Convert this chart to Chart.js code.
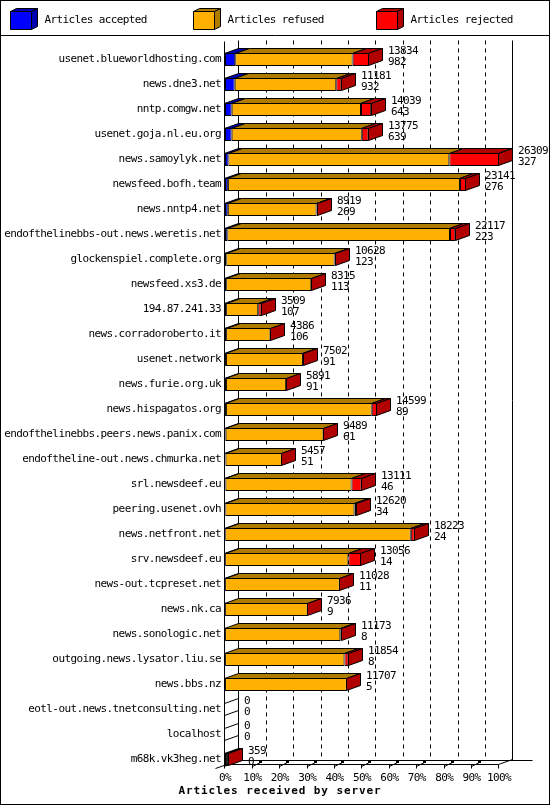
<!DOCTYPE html>
<html><head><meta charset="utf-8">
<script src="https://cdn.jsdelivr.net/npm/chart.js@4.4.0/dist/chart.umd.min.js"></script>
<style>html,body{margin:0;padding:0;background:#fff}canvas{display:block}</style>
</head><body>
<canvas id="c" width="550" height="805"></canvas>
<script>
const servers = [
  'usenet.blueworldhosting.com','news.dne3.net','nntp.comgw.net','usenet.goja.nl.eu.org',
  'news.samoylyk.net','newsfeed.bofh.team','news.nntp4.net','endofthelinebbs-out.news.weretis.net',
  'glockenspiel.complete.org','newsfeed.xs3.de','194.87.241.33','news.corradoroberto.it',
  'usenet.network','news.furie.org.uk','news.hispagatos.org','endofthelinebbs.peers.news.panix.com',
  'endoftheline-out.news.chmurka.net','srl.newsdeef.eu','peering.usenet.ovh','news.netfront.net',
  'srv.newsdeef.eu','news-out.tcpreset.net','news.nk.ca','news.sonologic.net',
  'outgoing.news.lysator.liu.se','news.bbs.nz','eotl-out.news.tnetconsulting.net','localhost',
  'm68k.vk3heg.net'
];
const accepted = [982,932,643,639,327,276,269,223,123,113,107,106,91,91,89,61,51,46,34,24,14,11,9,8,8,5,0,0,0];
const refused  = [11272,9749,12416,12496,21212,22285,8520,21384,10405,8172,3082,4260,7391,5780,14000,9398,5406,12105,12396,17814,11832,11007,7927,11065,11461,11692,0,0,200];
const rejected = [1580,500,980,640,4770,580,130,510,100,30,320,20,20,20,510,30,0,960,190,385,1210,10,0,100,385,10,0,0,159];
const pctTicks = ['0%','10%','20%','30%','40%','50%','60%','70%','80%','90%','100%'];
const seriesNames = ['Articles accepted','Articles refused','Articles rejected'];
const frontColors = ['#0000ff','#ffb000','#ff0000'];
const topColors = ['#0000b0','#b07c00','#b00000'];
const sideColor = '#b00000';
const titleText = 'Articles received by server';

const series = [accepted, refused, rejected];
const totals = servers.map((_, j) => accepted[j] + refused[j] + rejected[j]);
const maxTotal = Math.max(...totals);
const FONT = "'DejaVu Sans Mono', monospace";
const FSIZE = 11;
const SPACING = '-0.6px';
const DX = 14, DY = -5;

function poly(ctx, pts, fill) {
  ctx.beginPath();
  ctx.moveTo(pts[0][0], pts[0][1]);
  for (let i = 1; i < pts.length; i++) ctx.lineTo(pts[i][0], pts[i][1]);
  ctx.closePath();
  if (fill) { ctx.fillStyle = fill; ctx.fill(); }
  ctx.stroke();
}
function line(ctx, x1, y1, x2, y2) {
  ctx.beginPath(); ctx.moveTo(x1, y1); ctx.lineTo(x2, y2); ctx.stroke();
}
function setSpacing(ctx, v) { try { ctx.letterSpacing = v; } catch (e) {} }

const threeD = {
  id: 'threeD',
  beforeDraw(chart) {
    const ctx = chart.ctx;
    setSpacing(ctx, SPACING);
    ctx.save(); ctx.fillStyle = '#fff'; ctx.fillRect(0, 0, chart.width, chart.height); ctx.restore();
  },
  beforeDatasetsDraw(chart) {
    const { ctx, scales: { x } } = chart;
    ctx.save();
    ctx.translate(0.5, 0.5);
    ctx.lineWidth = 1; ctx.strokeStyle = '#000';
    const wallTop = 40, floorBack = 760, floorFront = 764;
    const n = x.ticks.length;
    x.ticks.forEach((t, i) => {
      const xf = Math.round(x.getPixelForValue(t.value) - 0.6);
      const xb = xf + DX;
      ctx.setLineDash(i === 0 || i === n - 1 ? [] : [4, 4]);
      line(ctx, xb, wallTop, xb, floorBack);
    });
    ctx.setLineDash([]);
    const xl = Math.round(x.getPixelForValue(0));
    const xr = Math.round(x.getPixelForValue(maxTotal) - 0.6);
    line(ctx, xl - 1, 41, xl - 1, floorFront + 1);
    line(ctx, xl + DX - 1, floorBack, 532, floorBack);
    line(ctx, xl - 1, floorFront, xr, floorFront);
    line(ctx, xr, floorFront, xr + DX, floorFront + DY);
    line(ctx, 215, floorFront + 4, xl + DX - 1, floorBack);
    x.ticks.forEach((t, i) => {
      const xf = Math.round(x.getPixelForValue(t.value) - 0.6);
      line(ctx, xf, floorFront, xf, floorFront + 4);
      if (i < n - 1) {
        line(ctx, xf, floorFront + 2, xf + 8, floorFront - 2);
        ctx.fillStyle = '#000';
        ctx.fillRect(xf + 7 - 0.5, floorFront - 3.5, 3, 2);
      }
    });
    ctx.restore();
  },
  afterDatasetsDraw(chart) {
    const { ctx, scales: { x, y } } = chart;
    ctx.save();
    ctx.lineWidth = 1; ctx.strokeStyle = '#000';
    const x0 = Math.round(x.getPixelForValue(0));
    servers.forEach((name, j) => {
      const cy = y.getPixelForValue(j);
      const top = Math.round(cy - 6.5), bot = top + 12;
      const total = totals[j];
      let xe;
      ctx.save();
      ctx.translate(0.5, 0.5);
      if (total === 0) {
        xe = x0 - 1;
        line(ctx, xe, top, xe + DX, top + DY);
        line(ctx, xe, bot, xe + DX, bot + DY);
      } else {
        const bounds = [x0 - 1];
        let cum = 0;
        series.forEach(s => {
          cum += s[j];
          bounds.push(Math.max(x0 - 1, Math.round(x.getPixelForValue(cum) - 0.6)));
        });
        for (let k = 0; k < 3; k++) {
          const a = bounds[k], b = bounds[k + 1];
          if (b > a) {
            poly(ctx, [[a, top], [b, top], [b + DX, top + DY], [a + DX, top + DY]], topColors[k]);
          }
        }
        xe = bounds[3];
        poly(ctx, [[xe, top], [xe + DX, top + DY], [xe + DX, bot + DY], [xe, bot]], sideColor);
      }
      ctx.restore();
      ctx.fillStyle = '#000';
      ctx.font = FSIZE + 'px ' + FONT;
      setSpacing(ctx, SPACING);
      ctx.textAlign = 'left';
      ctx.textBaseline = 'middle';
      ctx.fillText(String(total), xe + DX + 6, cy - 8.5);
      ctx.fillText(String(accepted[j]), xe + DX + 6, cy + 2.5);
    });
    ctx.restore();
  },
  afterDraw(chart) {
    const ctx = chart.ctx;
    ctx.save();
    ctx.translate(0.5, 0.5);
    ctx.lineWidth = 1; ctx.strokeStyle = '#000';
    seriesNames.forEach((nm, k) => {
      const bx = 10 + 183 * k, by = 11, w = 21, h = 18, dx = 6, dy = -3;
      poly(ctx, [[bx, by], [bx + w, by], [bx + w + dx, by + dy], [bx + dx, by + dy]], topColors[k]);
      poly(ctx, [[bx + w, by], [bx + w + dx, by + dy], [bx + w + dx, by + h + dy], [bx + w, by + h]], topColors[k]);
      poly(ctx, [[bx, by], [bx + w, by], [bx + w, by + h], [bx, by + h]], frontColors[k]);
      ctx.fillStyle = '#000';
      ctx.font = FSIZE + 'px ' + FONT;
      setSpacing(ctx, SPACING);
      ctx.textAlign = 'left';
      ctx.textBaseline = 'middle';
      ctx.fillText(nm, bx + 34, 20);
    });
    line(ctx, 0, 35, 550, 35);
    ctx.strokeRect(0, 0, 549, 804);
    ctx.restore();
    ctx.save();
    ctx.fillStyle = '#000';
    ctx.font = 'bold 11px ' + FONT;
    setSpacing(ctx, '0.9px');
    ctx.textAlign = 'center';
    ctx.textBaseline = 'middle';
    ctx.fillText(titleText, 280, 791.5);
    ctx.restore();
  }
};

new Chart(document.getElementById('c'), {
  type: 'bar',
  data: {
    labels: servers,
    datasets: seriesNames.map((nm, k) => ({
      label: nm,
      data: series[k],
      backgroundColor: frontColors[k],
      borderColor: '#000',
      borderWidth: 1,
      borderSkipped: false,
      barThickness: 13,
      inflateAmount: 0
    }))
  },
  options: {
    indexAxis: 'y',
    responsive: false,
    animation: false,
    devicePixelRatio: 1,
    layout: { padding: { top: 47, right: 51, bottom: 0, left: 0 } },
    plugins: { legend: { display: false }, tooltip: { enabled: false }, title: { display: false } },
    scales: {
      x: {
        stacked: true, min: 0, max: maxTotal,
        grid: { display: false, drawTicks: false }, border: { display: false },
        afterBuildTicks: (s) => { s.ticks = pctTicks.map((_, i) => ({ value: maxTotal * i / 10 })); },
        afterFit: (s) => { s.height = 33; },
        ticks: {
          autoSkip: false, maxRotation: 0, padding: 0, color: '#000',
          font: { family: FONT, size: FSIZE },
          callback: (v, i) => pctTicks[i]
        }
      },
      y: {
        stacked: true,
        grid: { display: false, drawTicks: false }, border: { display: false },
        afterFit: (s) => { s.width = 225; },
        ticks: { autoSkip: false, padding: 4, color: '#000', font: { family: FONT, size: FSIZE } }
      }
    }
  },
  plugins: [threeD]
});
</script>
</body></html>
